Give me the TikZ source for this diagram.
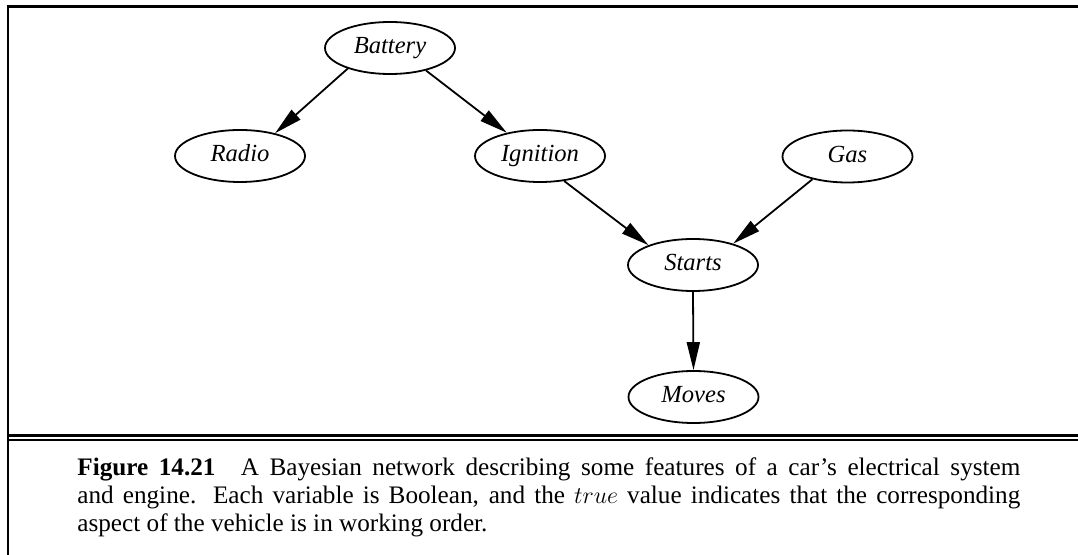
\documentclass[tikz,border=0pt]{standalone}
\usepackage{fontspec}
\setmainfont{Liberation Serif}
\usetikzlibrary{shapes.geometric,arrows.meta}
\begin{document}
\begin{tikzpicture}[x=0.5pt,y=-0.5pt,
  var/.style={ellipse,draw,line width=0.9pt,minimum width=65pt,minimum height=26pt,inner sep=0pt,text height=9pt,text depth=3pt,font=\fontsize{12.3}{14}\selectfont\itshape},
  arr/.style={line width=0.9pt,-{Triangle[length=14pt,width=6.5pt]}},
  frame/.style={line width=1.2pt}]
\useasboundingbox (0,0) rectangle (1078,555);
% frame
\coordinate (tl) at (7.7,6.7);
\coordinate (tr) at (1080,6.7);
\coordinate (bl) at (7.7,556);
\draw[frame] (tr) -- (tl) -- (bl);
\coordinate (d1l) at (7.7,435.5);
\coordinate (d1r) at (1080,435.5);
\coordinate (d2l) at (7.7,440);
\coordinate (d2r) at (1080,440);
\draw[frame] (d1l) -- (d1r);
\draw[frame] (d2l) -- (d2r);
% nodes
\node[var] (Battery) at (390,48) {Battery};
\node[var] (Radio) at (240,156) {Radio};
\node[var] (Ignition) at (540,156) {Ignition};
\node[var] (Gas) at (847.5,156.5) {Gas};
\node[var] (Starts) at (693,265) {Starts};
\node[var] (Moves) at (693.5,397) {Moves};
% edges
\draw[arr] (Battery.206) -- (Radio.33);
\draw[arr] (Battery.328) -- (Ignition.145);
\draw[arr] (Ignition.314) -- (Starts.156);
\draw[arr] (Gas.213) -- (Starts.28);
\draw[arr] (Starts.south) -- (Moves.north);
% caption
\node[anchor=north west,inner sep=0pt,text width=471.5pt,align=justify,font=\fontsize{12.6}{14.2}\selectfont] (cap) at (77,457)
{\textbf{Figure 14.21}\quad A Bayesian network describing some features of a car’s electrical system\linebreak
and engine. Each variable is Boolean, and the $true$ value indicates that the corresponding\linebreak
aspect of the vehicle is in working order.};
\end{tikzpicture}
\end{document}
